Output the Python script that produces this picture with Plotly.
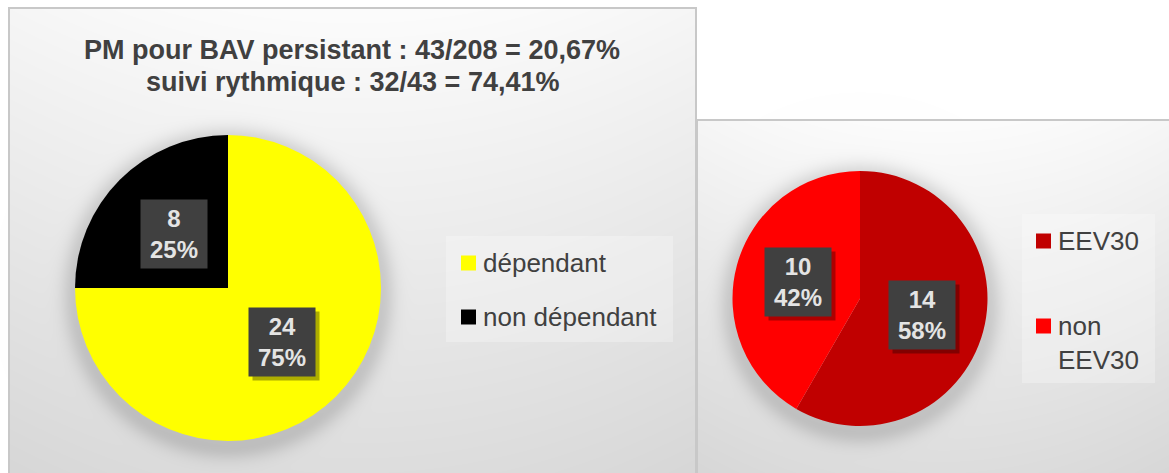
import base64, zlib, struct
import numpy as np
import plotly.graph_objects as go

# ---------------- data ----------------
title_lines = ["PM pour BAV persistant : 43/208 = 20,67%", "suivi rythmique : 32/43 = 74,41%"]

left_labels = ["dépendant", "non dépendant"]
left_values = [24, 8]
left_colors = ["#FFFF00", "#000000"]

right_labels = ["EEV30", "non EEV30"]
right_values = [14, 10]
right_colors = ["#C00000", "#FF0000"]

# ---------------- layout geometry (pixels) ----------------
W, H = 1169, 473
LEFT_PANEL = (9, 8, 696, 480)
RIGHT_PANEL = (697, 120, 1176, 480)
LEFT_PIE = (228, 288, 153)       # cx, cy, r
RIGHT_PIE = (860, 298.5, 127.5)
TITLE_X, TITLE_Y0, TITLE_DY = 352, 50, 32

def X(px):
    return px / W

def Y(py):
    return 1 - py / H

# ---------------- background image (gradient panels + soft pie shadows) ----------------
yy, xx = np.mgrid[0:H, 0:W].astype(float)
bg = np.full((H, W), 255.0)

def panel_grad(p):
    x0, y0, x1, y1 = p
    cx = (x0 + x1) / 2
    w = x1 - x0
    h = min(y1, H) - y0
    dy = np.clip((yy - y0) / h, 0, 1)
    dx = (xx - cx) / (w / 2)
    return 252 - 31 * dy - 6 * dx ** 2

for p in (LEFT_PANEL, RIGHT_PANEL):
    x0, y0, x1, y1 = p
    m = (xx >= x0) & (xx <= x1) & (yy >= y0) & (yy <= y1)
    bg = np.where(m, panel_grad(p), bg)

for (cx, cy, r) in (LEFT_PIE, RIGHT_PIE):
    d = np.sqrt((xx - cx) ** 2 + (yy - (cy + 5)) ** 2) - r
    sh = 32 * np.exp(-np.maximum(d, 0) ** 2 / (2 * 10.0 ** 2))
    bg = bg - sh

arr = np.clip(bg, 0, 255).astype(np.uint8)
rgb = np.stack([arr, arr, arr], axis=-1)

def png_bytes(a):
    h, w, _ = a.shape
    raw = b"".join(b"\x00" + a[i].tobytes() for i in range(h))
    def chunk(t, d):
        return struct.pack(">I", len(d)) + t + d + struct.pack(">I", zlib.crc32(t + d) & 0xFFFFFFFF)
    return (b"\x89PNG\r\n\x1a\n" + chunk(b"IHDR", struct.pack(">IIBBBBB", w, h, 8, 2, 0, 0, 0))
            + chunk(b"IDAT", zlib.compress(raw, 9)) + chunk(b"IEND", b""))

bg_uri = "data:image/png;base64," + base64.b64encode(png_bytes(rgb)).decode()

# ---------------- figure ----------------
fig = go.Figure()

def pie_domain(p):
    cx, cy, r = p
    return dict(x=[X(cx - r), X(cx + r)], y=[Y(cy + r), Y(cy - r)])

for labels, values, colors, geo in ((left_labels, left_values, left_colors, LEFT_PIE),
                                     (right_labels, right_values, right_colors, RIGHT_PIE)):
    fig.add_trace(go.Pie(labels=labels, values=values, sort=False, direction="clockwise",
                         rotation=0, marker=dict(colors=colors, line=dict(width=0)),
                         textinfo="none", hoverinfo="label+value+percent",
                         domain=pie_domain(geo), showlegend=False))

annotations = []
shapes = []

# data labels (dark boxes) placed at half radius on each slice's mid angle
LABEL_FONT = dict(family="Liberation Sans, Arial, sans-serif", size=24, color="#E4E4E4")
for values, geo in ((left_values, LEFT_PIE), (right_values, RIGHT_PIE)):
    cx, cy, r = geo
    total = sum(values)
    cum = 0
    for v in values:
        theta = np.deg2rad((cum + v / 2) / total * 360)
        cum += v
        px = cx + 0.5 * r * np.sin(theta)
        py = cy - 0.5 * r * np.cos(theta)
        pct = round(v / total * 100)
        common = dict(x=X(px), y=Y(py), xref="paper", yref="paper", showarrow=False,
                      width=64, height=66, xanchor="center", yanchor="middle", font=LABEL_FONT)
        annotations.append(dict(common, text=" ", bgcolor="rgba(0,0,0,0.32)", xshift=4, yshift=-4))
        annotations.append(dict(common, text=f"<b>{v}</b><br><b>{pct}%</b>", bgcolor="#404040",
                                align="center", valign="middle"))

# title (one annotation per line)
for i, t in enumerate(title_lines):
    annotations.append(dict(x=X(TITLE_X), y=Y(TITLE_Y0 + i * TITLE_DY), xref="paper", yref="paper",
                            text=f"<b>{t}</b>", showarrow=False,
                            font=dict(family="Liberation Sans, Arial, sans-serif", size=27, color="#404040"),
                            xanchor="center", yanchor="middle"))

# panel borders
for (x0, y0, x1, y1) in (LEFT_PANEL, RIGHT_PANEL):
    shapes.append(dict(type="rect", xref="paper", yref="paper", x0=X(x0), x1=X(x1), y0=Y(y1), y1=Y(y0),
                       line=dict(color="#C8C8C8", width=2), fillcolor="rgba(0,0,0,0)", layer="above"))

# manual legends
LEG_FONT = dict(family="Liberation Sans, Arial, sans-serif", size=26, color="#404040")
legends = [
    dict(labels=left_labels, colors=left_colors, box=(446, 236, 673, 342), sq_x=461, first_y=263, gap=54, wrap=False),
    dict(labels=right_labels, colors=right_colors, box=(1022, 214, 1155, 383), sq_x=1036, first_y=241, gap=85, wrap=True),
]
for lg in legends:
    bx0, by0, bx1, by1 = lg["box"]
    shapes.append(dict(type="rect", xref="paper", yref="paper", x0=X(bx0), x1=X(bx1), y0=Y(by1), y1=Y(by0),
                       line=dict(width=0), fillcolor="rgba(255,255,255,0.28)", layer="below"))
    for i, (lab, col) in enumerate(zip(lg["labels"], lg["colors"])):
        cyy = lg["first_y"] + i * lg["gap"]
        sx = lg["sq_x"]
        shapes.append(dict(type="rect", xref="paper", yref="paper", x0=X(sx), x1=X(sx + 15),
                           y0=Y(cyy + 7.5), y1=Y(cyy - 7.5), line=dict(width=0), fillcolor=col))
        txt = lab.replace(" ", "<br>") if lg["wrap"] else lab
        annotations.append(dict(x=X(sx + 20), y=Y(cyy), xref="paper", yref="paper", text=txt,
                                showarrow=False, xanchor="left", yanchor="top", yshift=17,
                                align="left", font=LEG_FONT))

fig.update_layout(
    width=W, height=H, margin=dict(l=0, r=0, t=0, b=0),
    paper_bgcolor="white", plot_bgcolor="white",
    images=[dict(source=bg_uri, xref="paper", yref="paper", x=0, y=1, sizex=1, sizey=1,
                 xanchor="left", yanchor="top", sizing="stretch", layer="below")],
    shapes=shapes, annotations=annotations, showlegend=False,
)

fig.write_html("out.html", config={"displayModeBar": False},
               post_script="document.body.style.margin='0';document.body.style.overflow='hidden';")
